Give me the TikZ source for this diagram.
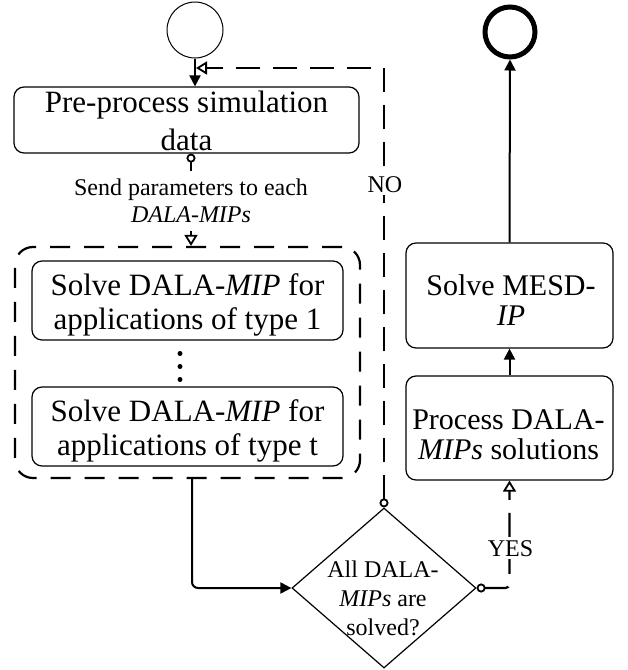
\documentclass[tikz,border=0pt]{standalone}
\usepackage{fontspec}
\setmainfont{Liberation Serif}
\usetikzlibrary{shapes.geometric,arrows.meta}
\begin{document}
\begin{tikzpicture}[x=1pt,y=-1pt,
  boxshape/.style={draw, rounded corners=10pt, line width=1.2pt, inner sep=0pt},
  bigtext/.style={font=\fontsize{31}{34}\selectfont, align=center, inner sep=0pt},
  midtext/.style={font=\fontsize{30}{30}\selectfont, align=center, inner sep=0pt},
  conn/.style={line width=2pt},
  dashconn/.style={line width=2.2pt, dash pattern=on 24pt off 13pt},
  filledtip/.style={-{Triangle[length=11pt,width=11pt]}},
  opentips/.style={{Circle[open,length=9pt,width=9pt,line width=1.8pt]}-{Triangle[open,length=11pt,width=13pt,line width=1.8pt]}},
  lbl/.style={fill=white, font=\fontsize{24}{24}\selectfont, inner sep=2pt}
]
\useasboundingbox (0,0) rectangle (628,670);

% start and end
\node[circle, draw, line width=1pt, minimum size=56pt, inner sep=0pt] (start) at (195,30) {};
\node[circle, draw, line width=5pt, minimum size=50pt, inner sep=0pt] (stop) at (510,32) {};

% pre-process box
\node[boxshape, minimum width=345pt, minimum height=66pt] (pre) at (186.5,120) {};
\node[bigtext, font=\fontsize{31}{38}\selectfont] (pretxt) at (186.5,120.5) {Pre-process simulation\\data};

\draw[conn, filledtip] (start.south) -- (start.south |- pre.north);

% send label
\node[font=\fontsize{24}{27}\selectfont, align=center, inner xsep=2pt, inner ysep=8pt] (send) at (191,201) {Send parameters to each\\\textit{DALA-MIPs}};

% group box
\node[draw, line width=2.2pt, dash pattern=on 20pt off 14pt, rounded corners=18pt, minimum width=345pt, minimum height=231pt, inner sep=0pt] (grp) at (187.5,362.5) {};

\draw[conn, {Circle[open,length=9pt,width=9pt,line width=1.8pt]}-] ([xshift=4.5pt]pre.south) -- ([xshift=4.5pt]pre.south |- send.north);
\draw[conn, -{Triangle[open,length=11pt,width=13pt,line width=1.8pt]}] (send.south) -- (send.south |- grp.north);

% inner boxes
\node[boxshape, minimum width=311pt, minimum height=79pt] (solve1) at (187.5,300.5) {};
\node[bigtext] (solve1txt) at (187.5,304.7) {Solve DALA-\textit{MIP} for\\applications of type 1};
\node[boxshape, minimum width=311pt, minimum height=79pt] (solvet) at (187.5,426.5) {};
\node[bigtext] (solvettxt) at (187.5,430.7) {Solve DALA-\textit{MIP} for\\applications of type t};

\fill (180,353.5) circle (2.5pt);
\fill (180,366.5) circle (2.5pt);
\fill (180,379.5) circle (2.5pt);

% decision
\node[diamond, draw, line width=1.2pt, minimum width=184pt, minimum height=160pt, inner sep=0pt] (dec) at (384,588) {};
\node[font=\fontsize{24}{29}\selectfont, align=center, inner sep=0pt] (dectxt) at (383,598) {All DALA-\\\textit{MIPs} are\\solved?};

\draw[conn, filledtip, rounded corners=6pt] ([xshift=4.5pt]grp.south) |- (dec.west);

% right boxes
\node[boxshape, minimum width=207pt, minimum height=104pt] (proc) at (509.5,428) {};
\node[midtext] (proctxt) at (508.5,435) {Process DALA-\\\textit{MIPs} solutions};
\node[boxshape, minimum width=207pt, minimum height=105pt] (mesd) at (509.5,295.5) {};
\node[midtext] (mesdtxt) at (511,299.8) {Solve MESD-\\\textit{IP}};

\draw[conn, filledtip] (proc.north) -- (mesd.south);
\draw[conn, filledtip] (mesd.north) -- (stop.south);

% NO loop
\coordinate (nojoin) at (196,68);
\draw[dashconn, opentips] (dec.north) -- (dec.north |- nojoin) -- (nojoin);
\node[lbl] (nolab) at (385,185) {NO};

% YES
\draw[dashconn, opentips, rounded corners=4pt] (dec.east) -| (proc.south);
\node[lbl] (yeslab) at (510.5,549) {YES};
\end{tikzpicture}
\end{document}
